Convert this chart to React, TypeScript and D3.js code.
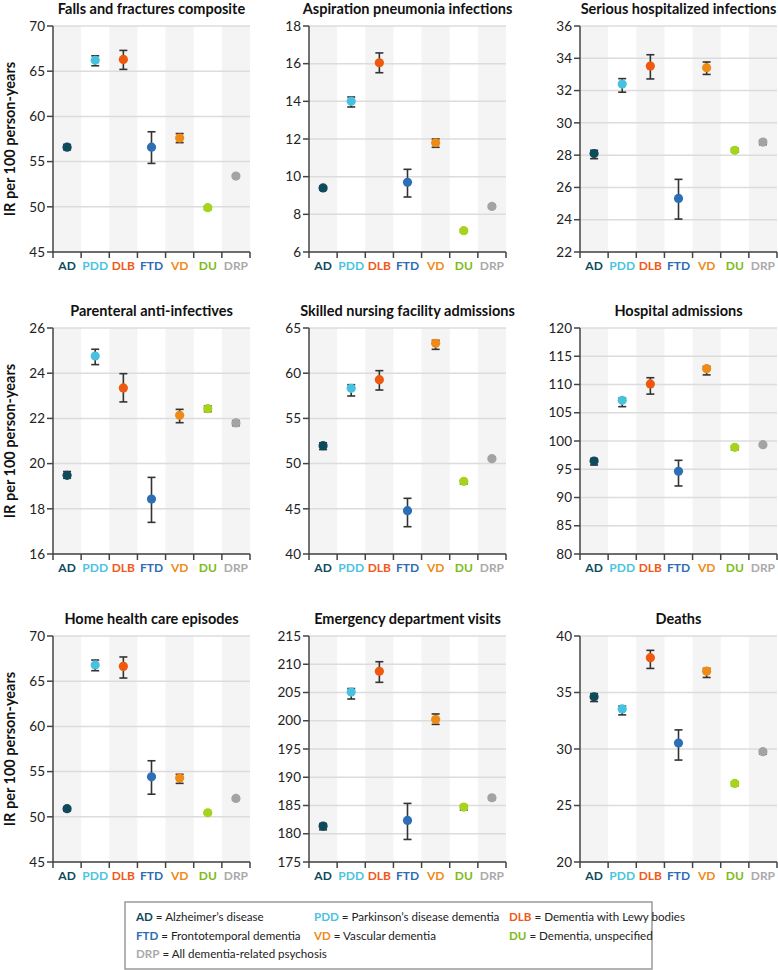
import * as d3 from "d3";
import React from "react";

const codes = ["AD", "PDD", "DLB", "FTD", "VD", "DU", "DRP"];
const dotColors = ["#0d4a5c", "#48c1de", "#f0580e", "#2d6fb7", "#ef8a14", "#a6d31c", "#a3a3a3"];
const labelColors = ["#0e4a5c", "#4cc3e0", "#ee5a18", "#2f6db3", "#ef8a1a", "#7dbb18", "#aaaaaa"];

const titles = [
  "Falls and fractures composite",
  "Aspiration pneumonia infections",
  "Serious hospitalized infections",
  "Parenteral anti-infectives",
  "Skilled nursing facility admissions",
  "Hospital admissions",
  "Home health care episodes",
  "Emergency department visits",
  "Deaths",
];

const domains: [number, number][] = [
  [45, 70], [6, 18], [22, 36],
  [16, 26], [40, 65], [80, 120],
  [45, 70], [175, 215], [20, 40],
];
const steps = [5, 2, 2, 2, 5, 5, 5, 5, 5];

// point estimates, per panel, in code order
const rates = [
  [56.6, 66.2, 66.3, 56.6, 57.6, 49.9, 53.4],
  [9.4, 14.0, 16.05, 9.7, 11.8, 7.13, 8.42],
  [28.1, 32.4, 33.52, 25.32, 33.42, 28.3, 28.81],
  [19.48, 24.76, 23.35, 18.43, 22.14, 22.43, 21.8],
  [51.98, 58.33, 59.28, 44.79, 63.3, 48.04, 50.55],
  [96.46, 107.2, 110.1, 94.63, 112.8, 98.88, 99.35],
  [50.9, 66.8, 66.64, 54.42, 54.28, 50.45, 52.03],
  [181.35, 205.08, 208.74, 182.35, 200.24, 184.72, 186.37],
  [34.62, 33.55, 38.08, 30.53, 36.89, 26.95, 29.76],
];
const lower = [
  [56.3, 65.6, 65.2, 54.8, 57.1, 49.7, 53.25],
  [9.3, 13.7, 15.52, 8.92, 11.56, 7.05, 8.35],
  [27.78, 31.9, 32.72, 24.04, 33.0, 28.18, 28.65],
  [19.35, 24.38, 22.73, 17.4, 21.81, 22.3, 21.68],
  [51.55, 57.48, 58.14, 43.02, 62.64, 47.75, 50.4],
  [95.75, 106.08, 108.3, 92.04, 111.7, 98.45, 99.15],
  [50.65, 66.16, 65.35, 52.5, 53.7, 50.3, 51.85],
  [180.7, 203.85, 206.8, 178.99, 199.36, 184.2, 186.05],
  [34.2, 33.02, 37.13, 29.02, 36.33, 26.75, 29.55],
];
const upper = [
  [56.9, 66.7, 67.3, 58.3, 58.1, 50.05, 53.55],
  [9.5, 14.23, 16.57, 10.39, 12.0, 7.2, 8.5],
  [28.3, 32.74, 34.22, 26.5, 33.77, 28.42, 28.92],
  [19.65, 25.06, 23.98, 19.39, 22.4, 22.55, 21.9],
  [52.3, 58.73, 60.28, 46.16, 63.64, 48.15, 50.7],
  [96.9, 107.6, 111.2, 96.58, 113.2, 99.1, 99.5],
  [51.1, 67.34, 67.68, 56.2, 54.7, 50.55, 52.15],
  [181.8, 205.7, 210.45, 185.37, 201.2, 185.0, 186.55],
  [34.9, 33.8, 38.73, 31.69, 37.13, 27.08, 29.9],
];

const legendNames = [
  "Alzheimer\u2019s disease",
  "Parkinson\u2019s disease dementia",
  "Dementia with Lewy bodies",
  "Frontotemporal dementia",
  "Vascular dementia",
  " Dementia, unspecified",
  "All dementia-related psychosis",
];

const colX = [53, 309, 580];
const rowY = [26, 328, 636];
const plotW = 197;
const plotH = 226;
const font = "Lato, 'Open Sans', sans-serif";

function Panel({ idx }: { idx: number }) {
  const x0 = colX[idx % 3];
  const y0 = rowY[Math.floor(idx / 3)];
  const x = d3.scaleBand<string>().domain(codes).range([0, plotW]).padding(0);
  const y = d3.scaleLinear().domain(domains[idx]).range([plotH, 0]);
  const ticks = d3.range(domains[idx][0], domains[idx][1] + 0.001, steps[idx]);
  const bw = x.bandwidth();

  return (
    <g transform={`translate(${x0},${y0})`}>
      {codes.map((c, i) =>
        i % 2 === 0 ? (
          <rect key={c} x={x(c)} y={0} width={bw} height={plotH} fill="#f4f4f4" />
        ) : null
      )}
      {ticks.map((t) => (
        <line key={t} x1={0} x2={plotW} y1={y(t)} y2={y(t)} stroke="#dcdcdc" strokeWidth={1.5} />
      ))}
      <text
        x={plotW / 2}
        y={-12}
        textAnchor="middle"
        fontFamily={font}
        fontWeight={700}
        fontSize={14.5}
        fill="#111"
      >
        {titles[idx]}
      </text>
      {/* y axis */}
      <line x1={0} x2={0} y1={0} y2={plotH} stroke="#444" strokeWidth={1.5} />
      {ticks.map((t) => (
        <g key={t} transform={`translate(0,${y(t)})`}>
          <line x1={-6} x2={0} stroke="#444" strokeWidth={1.5} />
          <text x={-8} dy="0.35em" textAnchor="end" fontFamily={font} fontSize={13.5} fill="#222">
            {t}
          </text>
        </g>
      ))}
      {/* x axis */}
      <line x1={0} x2={plotW} y1={plotH} y2={plotH} stroke="#444" strokeWidth={1.5} />
      <line x1={0} x2={0} y1={plotH} y2={plotH + 6} stroke="#444" strokeWidth={1.5} />
      {codes.map((c) => (
        <line key={c} x1={x(c)! + bw} x2={x(c)! + bw} y1={plotH} y2={plotH + 6} stroke="#444" strokeWidth={1.5} />
      ))}
      {codes.map((c, i) => (
        <text
          key={c}
          x={x(c)! + bw / 2}
          y={plotH + 18}
          textAnchor="middle"
          fontFamily={font}
          fontWeight={700}
          fontSize={12}
          fill={labelColors[i]}
        >
          {c}
        </text>
      ))}
      {/* error bars */}
      {codes.map((c, i) => {
        const cx = x(c)! + bw / 2;
        return (
          <g key={c} stroke="#333" strokeWidth={1.6}>
            <line x1={cx} x2={cx} y1={y(lower[idx][i])} y2={y(upper[idx][i])} />
            <line x1={cx - 4} x2={cx + 4} y1={y(lower[idx][i])} y2={y(lower[idx][i])} />
            <line x1={cx - 4} x2={cx + 4} y1={y(upper[idx][i])} y2={y(upper[idx][i])} />
          </g>
        );
      })}
      {codes.map((c, i) => (
        <circle key={c} cx={x(c)! + bw / 2} cy={y(rates[idx][i])} r={4.6} fill={dotColors[i]} />
      ))}
      {idx % 3 === 0 ? (
        <text
          transform={`translate(${-38},${plotH / 2}) rotate(-90)`}
          textAnchor="middle"
          fontFamily={font}
          fontWeight={700}
          fontSize={14.5}
          fill="#111"
        >
          IR per 100 person-years
        </text>
      ) : null}
    </g>
  );
}

function Legend() {
  const lx = 125;
  const ly = 902;
  const cols = [136, 314, 509];
  const rows = [921, 940, 958];
  return (
    <g>
      <rect x={lx} y={ly} width={527} height={67} fill="#fff" stroke="#9a9a9a" strokeWidth={1.5} />
      {codes.map((c, i) => (
        <text key={c} x={cols[i % 3]} y={rows[Math.floor(i / 3)]} fontFamily={font} fontSize={11.6} fill="#222">
          <tspan fontWeight={700} fill={labelColors[i]}>
            {c}
          </tspan>
          {" = " + legendNames[i]}
        </text>
      ))}
    </g>
  );
}

export default function App() {
  return (
    <div style={{ position: "absolute", left: 0, top: 0 }}>
      <svg width={778} height={970} style={{ display: "block", background: "#fff" }}>
        {titles.map((t, i) => (
          <Panel key={t} idx={i} />
        ))}
        <Legend />
      </svg>
    </div>
  );
}
